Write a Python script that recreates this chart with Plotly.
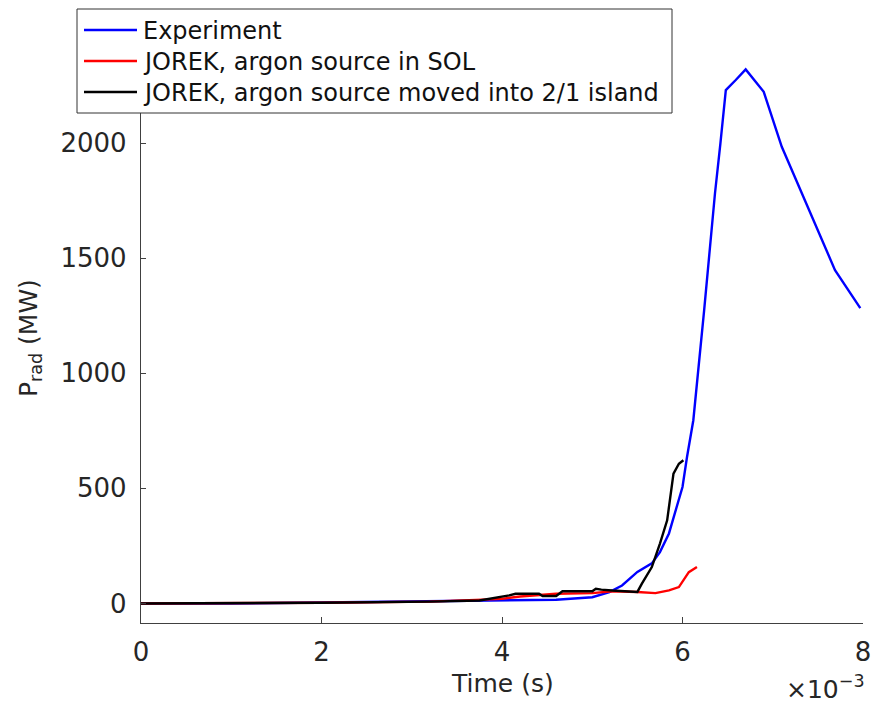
import plotly.graph_objects as go

# Time axis in units of 1e-3 s, radiated power in MW
exp_t = [0.0, 1.0, 2.0, 3.0, 4.0, 4.6, 5.0, 5.19, 5.33, 5.5, 5.66, 5.75, 5.85,
         5.92, 6.0, 6.05, 6.09, 6.12, 6.24, 6.36, 6.42, 6.48, 6.59, 6.7, 6.9,
         7.1, 7.69, 7.97]
exp_p = [0, 0, 4, 8, 13, 16, 27, 49, 78, 137, 174, 223, 304,
         404, 506, 636, 739, 796, 1274, 1782, 1999, 2230, 2274, 2320, 2223,
         1984, 1448, 1283]

sol_t = [0.0, 1.2, 2.0, 3.2, 4.0, 4.2, 4.6, 5.0, 5.22, 5.5, 5.7, 5.85, 5.96,
         6.07, 6.16]
sol_p = [0, 0, 3, 8, 20, 30, 42, 45, 53, 50, 45, 57, 71, 136, 158]

isl_t = [0.0, 1.2, 2.0, 3.2, 3.75, 4.08, 4.15, 4.41, 4.45, 4.6, 4.67, 5.0,
         5.04, 5.1, 5.22, 5.5, 5.55, 5.66, 5.75, 5.83, 5.87, 5.9, 5.96, 6.01]
isl_p = [0, 0, 3, 8, 13, 35, 42, 42, 32, 32, 53, 53,
         64, 60, 56, 50, 86, 158, 260, 361, 477, 564, 607, 622]

x_ticks = [0, 2, 4, 6, 8]
x_tick_labels = ["0", "2", "4", "6", "8"]
y_ticks = [0, 500, 1000, 1500, 2000]
y_tick_labels = ["0", "500", "1000", "1500", "2000"]

names = ["Experiment", "JOREK, argon source in SOL",
         "JOREK, argon source moved into 2/1 island"]
colors = ["#0000ff", "#ff0000", "#000000"]

FONT = "DejaVu Sans"
TXT = "#262626"
AX = "#404040"

W, H = 877, 702
M_L, M_R, M_T, M_B = 141, 14, 28, 79
PW, PH = W - M_L - M_R, H - M_T - M_B


def px_x(px):
    """Pixel column -> paper x."""
    return (px - M_L) / PW


def px_y(py):
    """Pixel row -> paper y."""
    return (H - M_B - py) / PH


fig = go.Figure()
for t, p, name, c in zip([exp_t, sol_t, isl_t], [exp_p, sol_p, isl_p],
                         names, colors):
    fig.add_trace(go.Scatter(x=t, y=p, mode="lines", name=name,
                             line=dict(color=c, width=2.4), showlegend=False))

# Boxed legend in the upper left, overlapping the top of the y axis
shapes = [dict(type="rect", xref="paper", yref="paper", layer="above",
               x0=px_x(77), x1=px_x(672), y0=px_y(113), y1=px_y(9),
               fillcolor="white", line=dict(color="#333333", width=1))]
annotations = []
row_y = [30, 61, 92]
for ry, name, c in zip(row_y, names, colors):
    shapes.append(dict(type="line", xref="paper", yref="paper", layer="above",
                       x0=px_x(84), x1=px_x(137), y0=px_y(ry), y1=px_y(ry),
                       line=dict(color=c, width=2.4)))
    annotations.append(dict(text=name, xref="paper", yref="paper",
                            x=px_x(141), y=px_y(ry + 1), xanchor="left",
                            yanchor="middle", showarrow=False,
                            font=dict(family=FONT, size=24, color="#111111")))

annotations += [
    dict(text="Time (s)", xref="paper", yref="paper", x=0.5, y=px_y(683),
         xanchor="center", yanchor="middle", showarrow=False,
         font=dict(family=FONT, size=25, color=TXT)),
    dict(text="×10<sup>−3</sup>", xref="x", yref="paper", x=8, xshift=4,
         y=px_y(687), xanchor="right", yanchor="middle", showarrow=False,
         font=dict(family=FONT, size=25, color=TXT)),
    dict(text="P<sub>rad</sub> (MW)", xref="paper", yref="paper",
         x=px_x(30), y=px_y(338), xanchor="center", yanchor="middle",
         textangle=-90, showarrow=False,
         font=dict(family=FONT, size=25, color=TXT)),
]

fig.update_layout(
    width=W, height=H,
    margin=dict(l=M_L, r=M_R, t=M_T, b=M_B, autoexpand=False),
    paper_bgcolor="white", plot_bgcolor="white",
    font=dict(family=FONT, size=26, color=TXT),
    showlegend=False,
    xaxis=dict(range=[0, 8], tickvals=x_ticks, ticktext=x_tick_labels,
               showgrid=False, zeroline=False, showline=True,
               linecolor=AX, linewidth=1.3, ticks="inside", ticklen=6,
               tickcolor=AX, tickwidth=1.3, ticklabelstandoff=6,
               tickfont=dict(family=FONT, size=26, color=TXT)),
    yaxis=dict(range=[-85, 2500], tickvals=y_ticks, ticktext=y_tick_labels,
               showgrid=False, zeroline=False, showline=True,
               linecolor=AX, linewidth=1.3, ticks="inside", ticklen=5,
               tickcolor=AX, tickwidth=1.3, ticklabelstandoff=8,
               tickfont=dict(family=FONT, size=26, color=TXT)),
    shapes=shapes,
    annotations=annotations,
)

fig.write_html("out.html")
